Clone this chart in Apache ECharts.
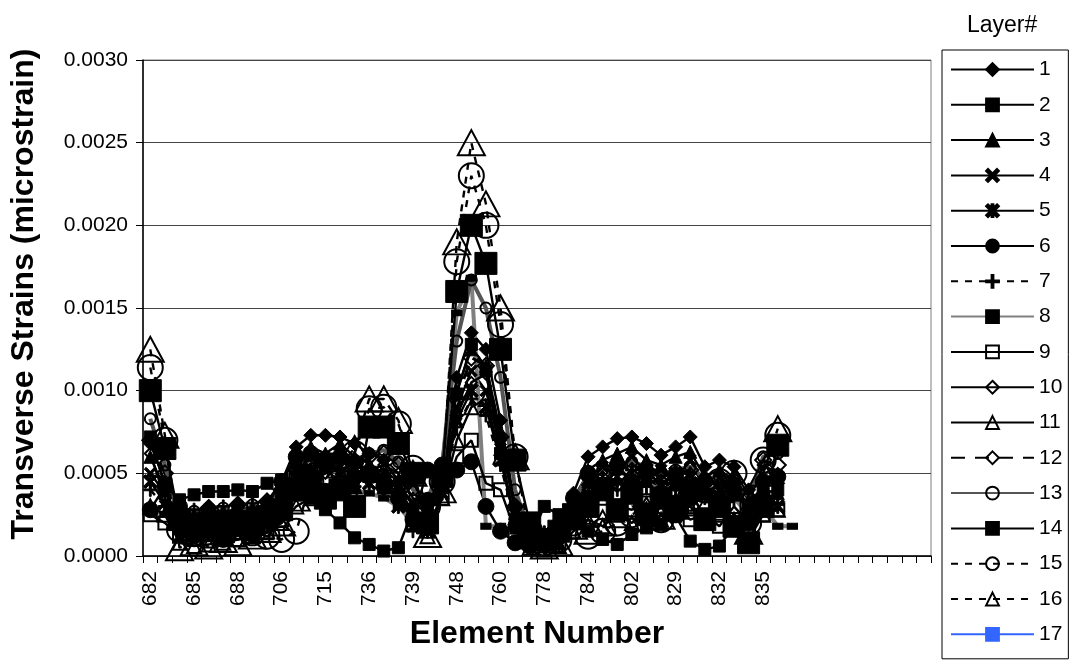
<!DOCTYPE html>
<html><head><meta charset="utf-8">
<script src="https://cdn.jsdelivr.net/npm/echarts@6/dist/echarts.min.js"></script>
<style>html,body{margin:0;padding:0;background:#fff}#c{width:1070px;height:661px}</style>
</head><body><div id="c"></div>
<script>
const categories = ['682','683','684','685','686','687','688','689','705','706','707','714','715','716','735','736','737','738','739','740','747','748','749','759','760','761','777','778','779','783','784','785','801','802','803','828','829','830','831','832','833','834','835','836','837','','','','','','','','',''];
const layerNames = ['1','2','3','4','5','6','7','8','9','10','11','12','13','14','15','16','17'];
const yTicks = {min:0, max:0.003, step:0.0005};

const s1 = [0.00068,0.00045,0.00028,0.00022,0.0003,0.00024,0.00031,0.00026,0.00033,0.00045,0.00066,0.00073,0.00073,0.00072,0.00068,0.00062,0.00058,0.00045,0.0003,0.00028,0.00055,0.00108,0.00135,0.00125,0.00082,0.0003,0.00012,0.00008,0.00015,0.00038,0.0006,0.00066,0.00071,0.00072,0.00068,0.00061,0.00066,0.00072,0.00054,0.00058,0.00054,0.0004,0.00045,0.00044];
const s2 = [0.00072,0.00042,0.00034,0.00037,0.00039,0.00039,0.0004,0.00039,0.00044,0.00046,0.0004,0.00035,0.00028,0.0002,0.00011,0.00007,0.00003,0.00005,0.00028,0.00033,0.00048,0.00098,0.00128,0.00112,0.00062,0.0002,0.0001,0.0003,0.00025,0.0002,0.00015,0.0001,0.00007,0.00013,0.00017,0.00019,0.00024,0.00009,0.00004,0.00006,0.00018,0.00028,0.00038,0.0004];
const s3 = [0.0006,0.0004,0.00018,0.00025,0.0002,0.00027,0.00022,0.00029,0.00025,0.0004,0.00058,0.00066,0.00062,0.00068,0.0006,0.00056,0.0005,0.00042,0.00026,0.00022,0.00048,0.001,0.00125,0.00115,0.00075,0.00026,0.00009,0.00012,0.00008,0.0003,0.00052,0.00058,0.00062,0.00066,0.00058,0.00055,0.0006,0.00063,0.00048,0.00052,0.00046,0.00034,0.0004,0.00038];
const s4 = [0.0005,0.00038,0.00025,0.00015,0.00028,0.00017,0.0003,0.00019,0.00032,0.00038,0.00052,0.0006,0.00055,0.00062,0.00052,0.00048,0.00045,0.00035,0.00018,0.00025,0.00042,0.0009,0.00112,0.001,0.00065,0.00018,0.00006,0.0001,0.00014,0.00026,0.00044,0.00054,0.00048,0.0006,0.0005,0.00052,0.00046,0.00058,0.0004,0.00047,0.00038,0.00028,0.00042,0.0003];
const s5 = [0.00045,0.00032,0.00012,0.00022,0.00014,0.00024,0.00016,0.00026,0.0002,0.00035,0.00048,0.00052,0.00058,0.0005,0.00053,0.00044,0.00046,0.0003,0.00022,0.00015,0.00038,0.00082,0.001,0.0009,0.00058,0.00022,0.00007,0.00014,0.00006,0.00022,0.00046,0.0004,0.00053,0.00045,0.00052,0.00042,0.0005,0.00044,0.00042,0.00036,0.00042,0.00026,0.00035,0.0003];
const s6 = [0.00028,0.00042,0.0003,0.00012,0.00026,0.0001,0.00024,0.00013,0.00028,0.00045,0.0006,0.00062,0.00055,0.0006,0.00048,0.0005,0.00042,0.00035,0.00022,0.00052,0.00055,0.00052,0.00057,0.0003,0.00015,0.00008,0.00006,0.00007,0.00012,0.00035,0.0005,0.0004,0.00055,0.00045,0.0005,0.00038,0.00048,0.00035,0.00045,0.0003,0.0004,0.0002,0.00045,0.00048];
const s7 = [0.0004,0.0003,0.0002,0.00028,0.00018,0.0003,0.0002,0.00032,0.00024,0.0003,0.00045,0.0005,0.0004,0.00053,0.00042,0.00045,0.00038,0.00033,0.00015,0.00018,0.0004,0.00078,0.00095,0.00085,0.00055,0.0002,0.00006,0.00005,0.00009,0.00025,0.00038,0.00047,0.0004,0.00052,0.00042,0.00045,0.0004,0.0005,0.00035,0.00041,0.00034,0.00028,0.0003,0.00031];
const s8 = [0.0003,0.00025,0.00015,0.00012,0.00018,0.00014,0.0002,0.00016,0.00022,0.00025,0.00035,0.0004,0.00042,0.00042,0.0004,0.00038,0.00035,0.0003,0.0002,0.00025,0.00054,0.00147,0.00168,0.00018,0.00018,0.00015,0.00008,0.00006,0.0001,0.00022,0.00038,0.00042,0.00045,0.00046,0.00044,0.0004,0.00042,0.00044,0.00036,0.00036,0.00035,0.00025,0.0003,0.00018,0.00018];
const s9 = [0.00025,0.0002,0.00012,0.0001,0.00009,0.0001,0.0001,0.00012,0.00014,0.00022,0.0005,0.00056,0.00058,0.00057,0.00055,0.0005,0.00048,0.0004,0.0002,0.00015,0.00035,0.0006,0.0007,0.00044,0.0004,0.00015,0.00008,0.00006,0.00008,0.0002,0.0003,0.00035,0.0003,0.00028,0.00032,0.00025,0.0003,0.00022,0.00025,0.00018,0.0003,0.0002,0.00025,0.00028];
const s10 = [0.00062,0.00035,0.00022,0.00018,0.00025,0.0002,0.00027,0.00022,0.00028,0.00036,0.00045,0.00048,0.0005,0.00052,0.0005,0.00052,0.00055,0.0005,0.00035,0.0003,0.00048,0.00085,0.00105,0.0011,0.0007,0.00028,0.0001,0.00007,0.0001,0.00028,0.0004,0.00048,0.00042,0.00053,0.00045,0.00046,0.00042,0.0005,0.00038,0.00044,0.0004,0.00032,0.00055,0.0005];
const s11 = [0.0003,0.00025,0.00008,0.00006,0.00007,0.00008,0.0001,0.00012,0.00015,0.0002,0.0003,0.00035,0.00038,0.0004,0.00042,0.0005,0.00052,0.00045,0.0002,0.00012,0.00035,0.0007,0.0009,0.00095,0.0006,0.0002,0.00005,0.00004,0.00006,0.00015,0.00022,0.00018,0.00025,0.0002,0.00028,0.00022,0.00026,0.0003,0.0002,0.00025,0.00022,0.0001,0.00025,0.00028];
const s12 = [0.0007,0.0005,0.00026,0.0002,0.00029,0.00022,0.00031,0.00024,0.00033,0.0004,0.00052,0.00055,0.00057,0.00058,0.00056,0.0006,0.00062,0.00055,0.00038,0.00032,0.00052,0.00095,0.0012,0.00115,0.00072,0.0003,0.00012,0.00008,0.00012,0.0003,0.00048,0.0005,0.00054,0.00055,0.00052,0.00048,0.0005,0.00052,0.00045,0.00046,0.00044,0.00035,0.00058,0.00055];
const s13 = [0.00083,0.00055,0.0002,0.00027,0.00022,0.00029,0.00024,0.00031,0.00026,0.00042,0.00055,0.00058,0.0006,0.0006,0.00058,0.00062,0.00064,0.00057,0.0004,0.00035,0.00055,0.0013,0.00167,0.0015,0.00108,0.0004,0.00015,0.0001,0.00015,0.00032,0.0005,0.00052,0.00056,0.00057,0.00054,0.0005,0.00052,0.00054,0.00047,0.00048,0.00046,0.00036,0.0006,0.00062];
const s14 = [0.001,0.00065,0.00022,0.00018,0.0002,0.00017,0.00021,0.00019,0.00024,0.00028,0.0004,0.00045,0.00035,0.0004,0.0003,0.00078,0.00078,0.00068,0.0005,0.0002,0.00048,0.0016,0.002,0.00177,0.00125,0.00058,0.0002,0.0001,0.00015,0.00025,0.0003,0.0004,0.00028,0.00038,0.00025,0.00035,0.0003,0.0004,0.00022,0.0003,0.00018,0.00008,0.0003,0.00067];
const s15 = [0.00114,0.0007,0.00016,0.00014,0.00017,0.00015,0.00018,0.00014,0.00012,0.0001,0.00015,0.00045,0.0005,0.00055,0.00062,0.00089,0.0009,0.0008,0.00053,0.0003,0.00045,0.00178,0.0023,0.002,0.0014,0.0006,0.00015,0.00008,0.0001,0.0002,0.00012,0.00015,0.0002,0.00025,0.0003,0.00022,0.00028,0.00035,0.0004,0.00045,0.0005,0.0002,0.00058,0.00073];
const s16 = [0.00125,0.00073,0.00005,0.00008,0.00006,0.0001,0.00008,0.00012,0.00016,0.0002,0.00035,0.00042,0.00048,0.00055,0.00065,0.00095,0.00095,0.00082,0.0005,0.00013,0.0004,0.0019,0.0025,0.00213,0.0015,0.0006,0.00012,0.00006,0.00008,0.00018,0.00015,0.0002,0.00025,0.0003,0.00028,0.00024,0.0003,0.00032,0.00035,0.0004,0.00045,0.00015,0.0005,0.00077];
const s17 = [];

const layerData = [s1,s2,s3,s4,s5,s6,s7,s8,s9,s10,s11,s12,s13,s14,s15,s16,s17];

const XMARK = 'path://M0,1.5 L1.5,0 L10,8.5 L8.5,10 Z M8.5,0 L10,1.5 L1.5,10 L0,8.5 Z';
const STAR = 'path://M0,1.5 L1.5,0 L10,8.5 L8.5,10 Z M8.5,0 L10,1.5 L1.5,10 L0,8.5 Z M4.3,0 L5.7,0 L5.7,10 L4.3,10 Z';
const PLUS = 'path://M4.3,0 L5.7,0 L5.7,4.3 L10,4.3 L10,5.7 L5.7,5.7 L5.7,10 L4.3,10 L4.3,5.7 L0,5.7 L0,4.3 L4.3,4.3 Z';

const styles = [
  {symbol:'diamond', size:14},
  {symbol:'rect', size:12},
  {symbol:'triangle', size:13},
  {symbol:XMARK, size:12},
  {symbol:STAR, size:14},
  {symbol:'circle', size:16},
  {symbol:PLUS, size:13, dash:[7,7]},
  {symbol:'rect', size:[10,6], line:'#808080', width:4},
  {symbol:'rect', size:13, hollow:true},
  {symbol:'diamond', size:11, hollow:true},
  {symbol:'triangle', size:14, hollow:true},
  {symbol:'diamond', size:16, dash:[14,10], width:3, hollow:true},
  {symbol:'circle', size:11, line:'#555555', width:4, hollow:true},
  {symbol:'rect', size:22},
  {symbol:'circle', size:25, dash:[7,7], hollow:true},
  {symbol:'triangle', size:[27,25], dash:[7,7], hollow:true},
  {symbol:'rect', size:6, line:'#3366ff', marker:'#3366ff', width:1.5}
];

const FONT = '"Liberation Sans", Arial, sans-serif';

const series = layerNames.map((name, i) => {
  const st = styles[i];
  const mk = st.marker || '#000';
  return {
    name: name,
    type: 'line',
    data: layerData[i],
    symbol: st.symbol,
    symbolSize: st.size,
    showAllSymbol: true,
    connectNulls: false,
    lineStyle: {color: st.line || '#000', width: st.width || 2.4, type: st.dash || 'solid'},
    itemStyle: {color: st.hollow ? 'rgba(255,255,255,0)' : mk, borderColor: mk, borderWidth: st.hollow ? 2 : 1},
    emphasis: {disabled: true}
  };
});

const chart = echarts.init(document.getElementById('c'), null, {renderer:'canvas'});
chart.setOption({
  animation: false,
  backgroundColor: '#fff',
  title: {
    text: 'Layer#', left: 962, top: 9,
    textStyle: {fontFamily: FONT, fontSize: 23, fontWeight: 'normal', color: '#000'}
  },
  legend: {
    type: 'plain',
    data: layerNames,
    orient: 'vertical',
    left: 942, top: 50,
    itemWidth: 83, itemHeight: 16, itemGap: 14.3,
    padding: [9, 6, 14, 8],
    borderColor: '#000', borderWidth: 1,
    backgroundColor: '#fff',
    selectedMode: false,
    textStyle: {fontFamily: FONT, fontSize: 21, color: '#000'}
  },
  grid: {left: 143, right: 139, top: 60, bottom: 105, outerBoundsMode: 'none', containLabel: false, show: true, borderColor: '#808080', borderWidth: 1, backgroundColor: 'transparent'},
  xAxis: {
    type: 'category',
    data: categories,
    boundaryGap: true,
    name: 'Element Number',
    nameLocation: 'middle',
    nameGap: 62,
    nameTextStyle: {fontFamily: FONT, fontSize: 32, fontWeight: 'bold', color: '#000'},
    axisLine: {lineStyle: {color: '#000', width: 1.5}},
    axisTick: {show: true, interval: 0, length: 7, inside: false, lineStyle: {color: '#000', width: 1}},
    axisLabel: {interval: 2, rotate: 90, margin: 15, fontFamily: FONT, fontSize: 21, color: '#000'},
    splitLine: {show: false}
  },
  yAxis: {
    type: 'value',
    min: yTicks.min, max: yTicks.max, interval: yTicks.step,
    name: 'Transverse Strains (microstrain)',
    nameLocation: 'middle',
    nameRotate: 90,
    nameGap: 103,
    nameTextStyle: {fontFamily: FONT, fontSize: 32, fontWeight: 'bold', color: '#000', padding: [0, 0, 0, 28]},
    axisLine: {show: true, lineStyle: {color: '#000', width: 1.5}},
    axisTick: {show: true, length: 7, lineStyle: {color: '#000'}},
    axisLabel: {margin: 15, fontFamily: FONT, fontSize: 21, color: '#000', formatter: v => v.toFixed(4)},
    splitLine: {show: true, lineStyle: {color: '#444', width: 1}}
  },
  series: series
});
</script>
</body></html>
